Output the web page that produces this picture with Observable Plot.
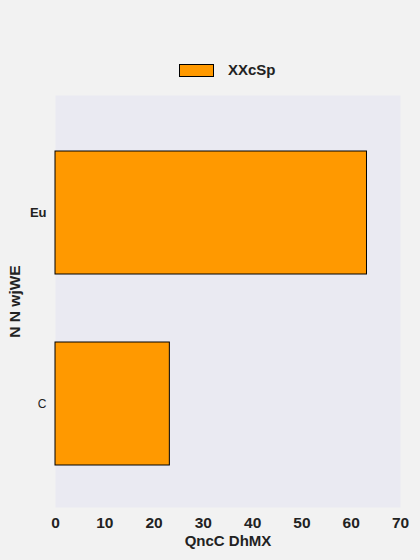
<!DOCTYPE html>
<html>
<head>
<meta charset="utf-8">
<script src="https://cdn.jsdelivr.net/npm/d3@7"></script>
<script src="https://cdn.jsdelivr.net/npm/@observablehq/plot@0.6"></script>
<style>
  html, body { margin: 0; padding: 0; background: #f2f2f2; }
  body { width: 420px; height: 560px; overflow: hidden; font-family: "Liberation Sans", Arial, sans-serif; }
  #legend { position: relative; width: 420px; height: 95px; }
  #legend .sw { position: absolute; left: 179px; top: 64px; width: 33px; height: 11px; border: 1px solid #000; background: #ff9900; }
  #legend .lb { position: absolute; left: 228px; top: 61px; font-size: 15px; font-weight: bold; color: #222; line-height: 18px; }
  #chart svg { display: block; }
</style>
</head>
<body>
<div id="legend"><div class="sw"></div><div class="lb"></div></div>
<div id="chart"></div>
<script>
const categories = ["Eu", "C"];
const values = [63.2, 23.2];
const seriesName = "XXcSp";
const xTicks = [0, 10, 20, 30, 40, 50, 60, 70];
const xLabel = "QncC DhMX";
const yLabel = "N N wjWE";

const data = categories.map((c, i) => ({cat: c, value: values[i]}));
document.querySelector("#legend .lb").textContent = seriesName;

const chart = Plot.plot({
  width: 420,
  height: 465,
  marginTop: 0,
  marginBottom: 53,
  marginLeft: 55,
  marginRight: 20,
  style: {background: "transparent", fontFamily: "'Liberation Sans', Arial, sans-serif", color: "#222"},
  x: {domain: [0, 70], ticks: xTicks, label: null},
  y: {domain: categories, range: [55, 371], paddingInner: 0.354, paddingOuter: 0, label: null},
  marks: [
    Plot.frame({fill: "#eaeaf2", stroke: null}),
    Plot.barX(data, {x: "value", y: "cat", fill: "#ff9900", stroke: "#000", strokeWidth: 1}),
    Plot.axisX({ticks: xTicks, tickSize: 0, tickPadding: 9, fontSize: 15.5, fontWeight: "bold", label: null}),
    Plot.axisY({ticks: [categories[0]], tickSize: 0, tickPadding: 9, fontSize: 13, fontWeight: "bold", label: null}),
    Plot.axisY({ticks: [categories[1]], tickSize: 0, tickPadding: 9, fontSize: 12, label: null}),
    Plot.text([xLabel], {text: d => d, frameAnchor: "bottom", textAnchor: "middle", lineAnchor: "middle", dy: 34, fontSize: 15, fontWeight: "bold"}),
    Plot.text([yLabel], {text: d => d, frameAnchor: "left", textAnchor: "middle", lineAnchor: "middle", rotate: -90, dx: -40, fontSize: 15.5, fontWeight: "bold"})
  ]
});
document.getElementById("chart").appendChild(chart);
</script>
</body>
</html>
